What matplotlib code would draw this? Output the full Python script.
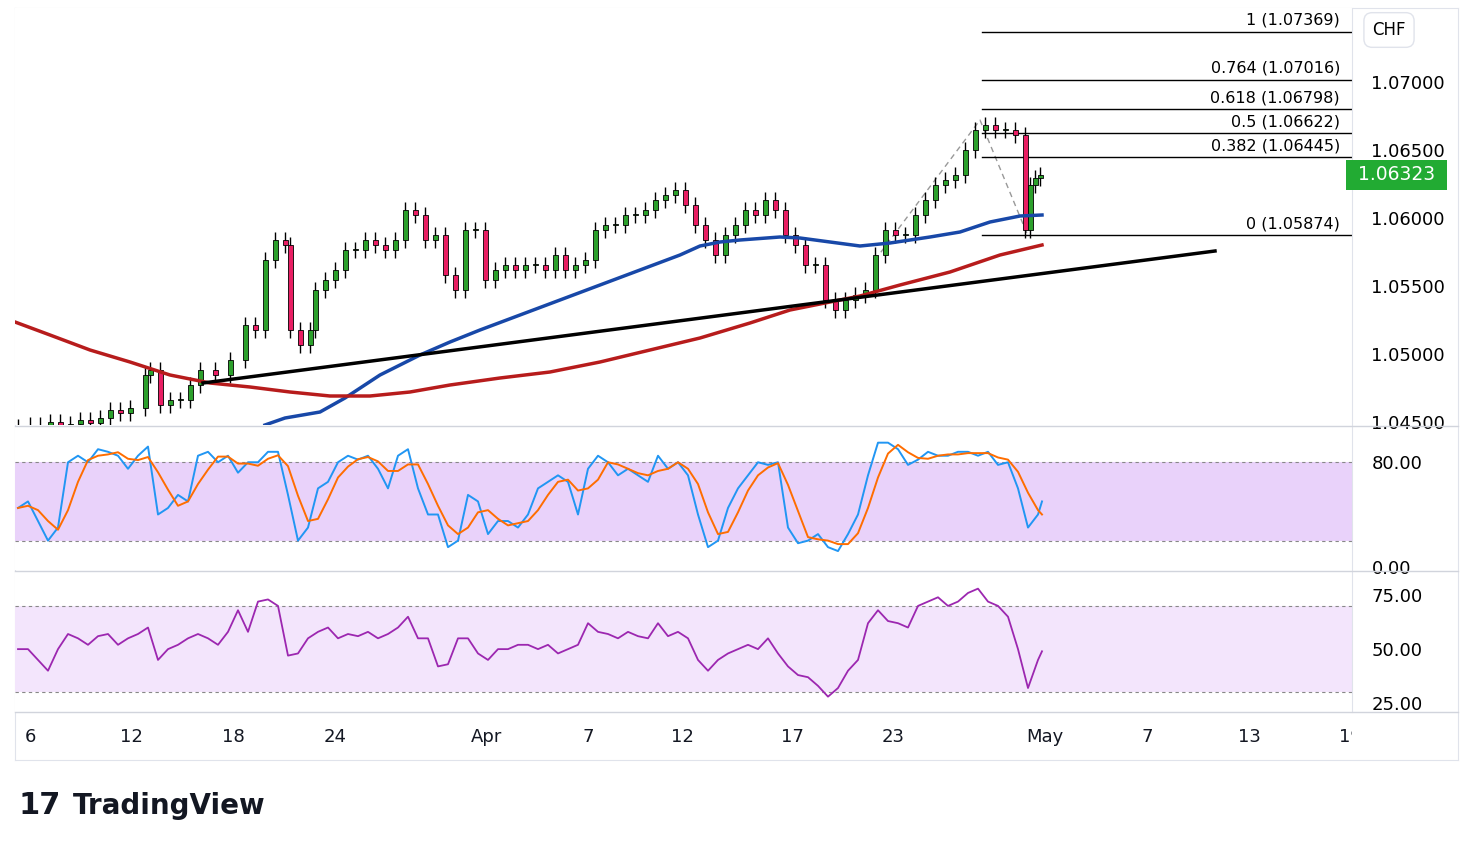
import matplotlib
matplotlib.use("Agg")
import matplotlib.pyplot as plt
import numpy as np

W, H = 1473, 851
# ---- data ----
bar_x = [18,30,40,50,60,70,80,90,100,110,120,130,145,150,160,170,180,190,200,215,230,245,255,265,275,285,290,300,310,315,325,335,345,355,365,375,385,395,405,415,425,435,445,455,465,475,485,495,505,515,525,535,545,555,565,575,585,595,605,615,625,635,645,655,665,675,685,695,705,715,725,735,745,755,765,775,785,795,805,815,825,835,845,855,865,875,885,895,905,915,925,935,945,955,965,975,985,995,1005,1015,1025,1030,1035,1040]
close_y = [430,425,428,422,426,424,420,423,418,410,413,408,375,370,405,400,400,385,370,375,360,325,330,260,240,245,330,345,330,290,280,270,250,250,240,245,250,240,210,215,240,235,275,290,230,230,280,270,265,270,265,265,270,255,270,265,260,230,225,225,215,215,210,200,195,190,205,225,240,255,235,225,210,215,200,210,235,245,265,265,300,310,300,295,290,255,230,235,235,215,200,185,180,175,150,130,125,130,130,135,230,185,178,175]

blue_x = [265,285,320,345,380,420,450,480,520,560,600,640,680,700,720,740,780,800,830,860,890,930,960,990,1020,1042]
blue_y = [425,418,412,398,375,355,342,330,315,300,285,270,255,246,242,240,237,238,242,246,243,237,232,222,216,215]
red_x = [15,50,90,130,170,210,250,290,330,370,410,450,500,550,600,650,700,750,790,830,860,900,950,1000,1042]
red_y = [322,335,350,362,375,383,387,392,396,396,392,385,378,372,362,350,338,323,310,302,296,285,272,255,245]

fib_levels = [1.07369, 1.07016, 1.06798, 1.06622, 1.06445, 1.05874]
fib_names = ["1", "0.764", "0.618", "0.5", "0.382", "0"]

stoch_x = list(range(18, 1041, 10)) + [1042]
stoch_k = [45,50,35,20,30,80,85,80,90,88,85,75,85,92,40,45,55,50,85,88,80,85,72,80,80,88,88,55,20,30,60,65,80,85,82,85,75,60,85,90,60,40,40,15,20,55,50,25,35,35,30,40,60,65,70,65,40,75,85,80,70,75,70,65,85,75,80,70,40,15,20,45,60,70,80,78,80,30,18,20,25,15,12,25,40,70,95,95,90,78,82,88,85,85,88,88,85,88,78,80,60,30,40,50]
rsi_vals = [50,50,45,40,50,57,55,52,56,57,52,55,57,60,45,50,52,55,57,55,52,58,68,58,72,73,70,47,48,55,58,60,55,57,56,58,55,57,60,65,55,55,42,43,55,55,48,45,50,50,52,52,50,52,48,50,52,62,58,57,55,58,56,55,62,56,58,55,45,40,45,48,50,52,50,55,48,42,38,37,33,28,32,40,45,62,68,63,62,60,70,72,74,70,72,76,78,72,70,65,50,32,45,49]

date_pos = [30,131,233,335,487,588,682,792,893,1045,1147,1249,1350]
date_lab = ["6","12","18","24","Apr","7","12","17","23","May","7","13","19"]

def y2p(y):
    return 1.07 - (y - 82) / 68 * 0.005

closes = [y2p(v) for v in close_y]

fig = plt.figure(figsize=(W/100, H/100), dpi=100)
def ax_px(x0, y0, x1, y1):
    return fig.add_axes([x0/W, 1 - y1/H, (x1-x0)/W, (y1-y0)/H])

XL, XR = 15, 1352
fr = ax_px(15, 8, 1458, 760)
fr.set_xticks([]); fr.set_yticks([])
for s in fr.spines.values(): s.set_color("#e0e3eb")
fr.patch.set_alpha(0)

ax = ax_px(XL, 8, XR, 425)
ax.set_xlim(XL, XR); ax.set_ylim(y2p(425), y2p(8))
for i, (x, c) in enumerate(zip(bar_x, closes)):
    o = closes[i-1] if i > 0 else c + 0.0002
    up = c >= o
    hi = max(o, c) + 0.0006; lo = min(o, c) - 0.0006
    ax.vlines(x, lo, hi, color="black", lw=1, zorder=3)
    col = "#2ca02c" if up else "#e91e63"
    b = max(abs(c-o), 0.00004)
    ax.add_patch(plt.Rectangle((x-2.5, min(o, c)), 5, b, facecolor=col, edgecolor="black", lw=0.6, zorder=4))
ax.plot(blue_x, [y2p(v) for v in blue_y], color="#1848a8", lw=2.5, zorder=5)
ax.plot(red_x, [y2p(v) for v in red_y], color="#b71c1c", lw=2.5, zorder=5)
ax.plot([203, 1215], [y2p(383), y2p(251)], color="black", lw=2.5, zorder=6)
ax.plot([875, 980, 1028], [y2p(260), y2p(120), y2p(236)], color="#999999", lw=1, ls=(0, (4, 3)), zorder=2)
for lv, nm in zip(fib_levels, fib_names):
    ax.plot([982, XR], [lv, lv], color="black", lw=1)
    ax.text(1340, lv + 0.0003, f"{nm} ({lv:.5f})", ha="right", va="bottom", fontsize=11.5)
ax.set_xticks([])
ax.yaxis.tick_right()
ax.set_yticks([1.045, 1.05, 1.055, 1.06, 1.065, 1.07])
ax.set_yticklabels([f"{v:.5f}" for v in [1.045, 1.05, 1.055, 1.06, 1.065, 1.07]], fontsize=13)
ax.tick_params(axis="y", length=0, pad=14)
for s in ["top", "left", "bottom"]: ax.spines[s].set_visible(False)
ax.spines["right"].set_color("#e0e3eb")
ax.text(1.0, closes[-1], " 1.06323 ", transform=ax.get_yaxis_transform(), fontsize=13.5, color="white",
        va="center", ha="left", bbox=dict(boxstyle="square,pad=0.3", fc="#22ab33", ec="none"), zorder=10)
fig.text(1389/W, 1 - 30/H, "CHF", fontsize=12, va="center", ha="center",
         bbox=dict(boxstyle="round,pad=0.5", fc="white", ec="#e0e3eb"))

sa = ax_px(XL, 427, XR, 570)
sa.set_xlim(XL, XR); sa.set_ylim(-2.5, 107)
sa.axhspan(20, 80, color="#e7cdfa", alpha=0.9, lw=0)
for lv in [20, 80]: sa.axhline(lv, color="#888888", lw=0.8, ls=(0, (3, 3)))
k = np.array(stoch_k, float)
d = np.convolve(np.r_[k[0], k[0], k], np.ones(3)/3, mode="valid")
sa.plot(stoch_x, k, color="#2196f3", lw=1.4)
sa.plot(stoch_x, d, color="#ff6d00", lw=1.4)
sa.set_xticks([]); sa.yaxis.tick_right()
sa.set_yticks([0, 80]); sa.set_yticklabels(["0.00", "80.00"], fontsize=13)
sa.tick_params(axis="y", length=0, pad=14)
for s in ["top", "left", "bottom"]: sa.spines[s].set_visible(False)
sa.spines["right"].set_color("#e0e3eb")

ra = ax_px(XL, 572, XR, 712)
ra.set_xlim(XL, XR); ra.set_ylim(20.9, 85.7)
ra.axhspan(30, 70, color="#f3e5fc", lw=0)
for lv in [30, 70]: ra.axhline(lv, color="#888888", lw=0.8, ls=(0, (3, 3)))
ra.plot(stoch_x, rsi_vals, color="#9c27b0", lw=1.3)
ra.set_xticks([]); ra.yaxis.tick_right()
ra.set_yticks([25, 50, 75]); ra.set_yticklabels(["25.00", "50.00", "75.00"], fontsize=13)
ra.tick_params(axis="y", length=0, pad=14)
for s in ["top", "left", "bottom"]: ra.spines[s].set_visible(False)
ra.spines["right"].set_color("#e0e3eb")

for yy in [426, 571, 712]:
    fig.add_artist(plt.Line2D([15/W, 1458/W], [1-yy/H, 1-yy/H], color="#d1d4dc", lw=1))

da = ax_px(XL, 713, XR, 760)
da.set_xlim(XL, XR); da.set_ylim(0, 1)
da.axis("off")
for p, l in zip(date_pos, date_lab):
    da.text(p, 0.5, l, ha="center", va="center", fontsize=13, color="#131722", clip_on=True)

fig.text(18/W, 1-806/H, "17", fontsize=22, fontweight="heavy", va="center", color="#131722")
fig.text(73/W, 1-806/H, "TradingView", fontsize=20, fontweight="bold", va="center", color="#131722")
fig.savefig("out.png", dpi=100)
